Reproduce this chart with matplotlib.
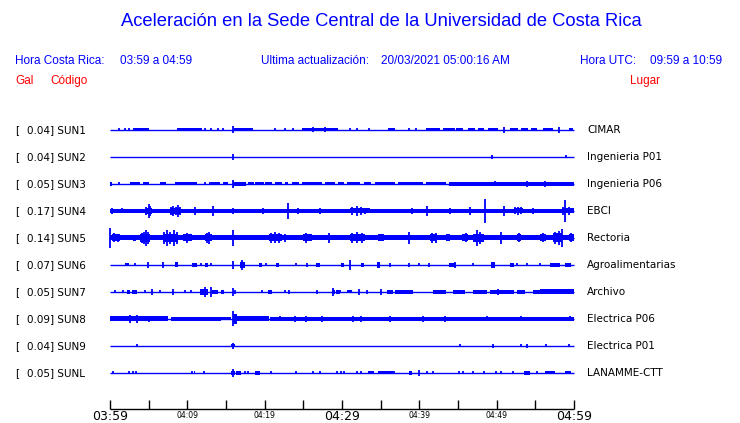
import matplotlib
matplotlib.use("Agg")
import matplotlib.pyplot as plt

# Estaciones y aceleracion maxima (Gal)
codigos = ['SUN1', 'SUN2', 'SUN3', 'SUN4', 'SUN5', 'SUN6', 'SUN7', 'SUN8', 'SUN9', 'SUNL']
gal = [0.04, 0.04, 0.05, 0.17, 0.14, 0.07, 0.05, 0.09, 0.04, 0.05]
lugares = ['CIMAR', 'Ingenieria P01', 'Ingenieria P06', 'EBCI', 'Rectoria',
           'Agroalimentarias', 'Archivo', 'Electrica P06', 'Electrica P01', 'LANAMME-CTT']

# Envolvente de cada registro, leida de la figura
# bloques: (min inicio, min fin, semi-amplitud px); picos: (min, semi-amplitud px)
bloques_sun1 = [(3.0, 5.0, 1.5), (8.6, 11.9, 1.5), (16.0, 18.5, 1.5), (24.8, 29.5, 1.5),
                (35.9, 36.8, 1.5), (40.9, 42.7, 1.5), (43.1, 44.6, 1.5), (44.8, 45.7, 1.5),
                (46.3, 47.2, 1.5), (47.6, 48.3, 1.5), (48.9, 50.2, 1.5), (51.7, 52.8, 1.5),
                (53.2, 54.1, 1.5), (54.5, 55.2, 1.5), (56.0, 57.3, 1.5), (59.3, 59.9, 1.5)]
picos_sun1 = [(1.1, 1.5), (2.0, 1.5), (2.4, 1.5), (12.3, 1.5), (13.1, 1.5), (14.0, 1.5),
              (14.6, 1.5), (15.85, 3.5), (21.3, 1.5), (22.6, 1.5), (23.7, 1.5), (26.3, 2.5),
              (27.8, 2.5), (31.0, 1.5), (32.0, 1.5), (33.5, 1.5), (38.6, 1.5), (39.6, 1.5),
              (51.0, 3.0), (58.0, 3.0)]

bloques_sun2 = []
picos_sun2 = [(15.85, 3.0), (49.4, 2.0), (59.0, 1.5)]

bloques_sun3 = [(0.0, 0.3, 2), (2.6, 3.9, 1.5), (4.3, 5.0, 1.5), (6.5, 7.3, 1.5),
                (8.4, 11.2, 1.5), (13.0, 14.2, 1.5), (14.65, 15.3, 1.5), (15.9, 17.6, 2),
                (17.8, 18.6, 1.5), (18.8, 19.9, 1.5), (20.1, 20.9, 1.5), (21.3, 22.2, 1.5),
                (22.6, 23.0, 1.5), (23.5, 24.4, 1.5), (24.8, 27.4, 1.5), (27.8, 29.1, 1.5),
                (29.5, 30.3, 1.5), (30.6, 32.3, 1.5), (32.9, 33.8, 1.5), (34.3, 36.8, 1.5),
                (37.3, 40.5, 1.5), (40.9, 43.5, 1.5), (43.9, 60.0, 2)]
picos_sun3 = [(1.1, 1.5), (12.3, 1.5), (12.9, 1.5), (15.85, 4.0), (49.8, 2.5),
              (53.9, 3.0), (56.3, 3.0)]

bloques_sun4 = [(0.0, 60.0, 1.7), (4.6, 5.4, 3), (7.8, 9.1, 3), (31.0, 33.6, 2.5),
                (52.2, 53.4, 2.5), (58.4, 60.0, 2.5)]
picos_sun4 = [(0.3, 3), (1.5, 2.5), (4.7, 4), (5.0, 7), (5.2, 5), (7.9, 4), (8.2, 5),
              (8.5, 4), (8.8, 6), (9.0, 4), (11.0, 4), (13.3, 5), (15.85, 3), (19.8, 3),
              (23.0, 8), (24.3, 3), (27.1, 3), (31.3, 4), (31.9, 5), (32.4, 4), (33.0, 3),
              (39.0, 3), (40.95, 5), (44.0, 3), (46.5, 4), (48.5, 12), (51.0, 5),
              (52.4, 3.5), (52.7, 4), (53.1, 3.5), (54.7, 3), (58.6, 4), (58.9, 11), (59.4, 4)]

bloques_sun5 = [(0.0, 60.0, 2.5), (0.2, 1.3, 3.5), (3.0, 3.4, 3), (3.9, 5.2, 4),
                (6.8, 8.8, 4), (9.5, 10.6, 3.5), (12.3, 13.15, 3.5), (20.5, 22.2, 3.5),
                (25.0, 26.1, 3.5), (31.0, 33.0, 3.5), (34.7, 35.4, 3.5), (41.4, 42.3, 3.5),
                (43.5, 44.0, 3.5), (45.5, 46.3, 3.5), (47.0, 48.3, 4), (52.6, 53.2, 3.5),
                (55.6, 56.4, 3.5), (57.3, 58.4, 4.5), (59.3, 60.0, 3.5)]
picos_sun5 = [(0.0, 10), (0.5, 4.5), (1.0, 4), (4.1, 5), (4.4, 6), (4.6, 8), (4.9, 6),
              (7.0, 6), (7.4, 8), (7.8, 6), (8.3, 8), (8.6, 6), (10.0, 5), (12.5, 5),
              (12.8, 6), (15.85, 8), (20.8, 5), (21.3, 5.5), (21.8, 5), (22.6, 4), (25.4, 5),
              (28.3, 5), (31.3, 5), (32.0, 5.5), (32.6, 5), (38.6, 6), (41.7, 5), (42.1, 5),
              (46.0, 4.5), (47.4, 8), (47.9, 6), (50.6, 6), (52.9, 4.5), (56.0, 4.5),
              (57.6, 6), (58.0, 7), (58.5, 9), (59.6, 4.5)]

bloques_sun6 = [(1.9, 2.4, 1.5), (8.4, 8.8, 2.5), (10.6, 11.2, 2), (12.3, 12.7, 2),
                (16.8, 17.5, 3), (19.3, 19.7, 2), (21.5, 21.9, 2), (26.7, 27.2, 2),
                (29.9, 30.3, 2), (32.4, 32.8, 2), (34.5, 34.9, 3), (43.8, 44.8, 2),
                (49.3, 49.8, 3), (51.7, 52.2, 2), (56.9, 58.2, 2), (58.8, 59.6, 2)]
picos_sun6 = [(3.2, 1.5), (4.95, 3), (6.9, 3), (11.8, 1.5), (13.1, 1.5), (15.85, 4),
              (17.1, 5), (20.2, 1.5), (24.1, 1.5), (25.5, 2), (31.0, 5), (36.2, 2),
              (38.6, 2), (39.9, 1.5), (41.2, 2), (44.6, 3), (47.0, 1.5), (52.6, 1.5),
              (53.9, 1.5), (55.6, 1.5)]

bloques_sun7 = [(2.2, 2.6, 2), (2.8, 3.45, 2), (11.6, 12.7, 3), (13.15, 14.0, 2),
                (14.4, 14.8, 2), (20.4, 20.9, 2), (28.7, 29.1, 2), (29.2, 29.7, 2),
                (30.6, 31.3, 1.5), (35.8, 36.6, 2), (36.9, 39.2, 2), (41.8, 43.5, 2),
                (44.4, 45.9, 2), (47.0, 48.7, 2), (49.1, 52.2, 2), (52.6, 53.6, 2),
                (54.7, 55.6, 2), (55.6, 60.0, 2.5)]
picos_sun7 = [(0.6, 1.5), (1.7, 1.5), (4.5, 1.5), (5.4, 3), (6.5, 1.5), (8.2, 3),
              (9.7, 1.5), (10.5, 1.5), (12.3, 5), (13.05, 5), (15.85, 4), (16.2, 2),
              (19.6, 1.5), (22.6, 1.5), (23.2, 2), (26.8, 2), (28.9, 4), (29.7, 1.5),
              (32.2, 3), (33.2, 2), (35.1, 3), (50.2, 3)]

bloques_sun8 = [(0.0, 7.5, 2.5), (7.9, 14.4, 2), (14.4, 15.7, 1.5), (15.9, 16.4, 5),
                (16.4, 20.5, 2.5), (20.7, 60.0, 2)]
picos_sun8 = [(2.6, 4), (3.45, 4), (5.0, 3), (15.85, 7.5), (22.0, 2.5), (23.9, 3),
              (25.4, 3), (27.4, 3), (31.4, 3), (32.5, 3), (36.2, 3), (40.5, 3),
              (43.3, 3), (48.7, 2.5), (53.2, 2.5), (59.5, 2.5)]

bloques_sun9 = [(15.7, 16.1, 1.5)]
picos_sun9 = [(3.5, 1.5), (15.85, 3), (45.2, 1.5), (49.5, 2), (53.2, 1.5), (53.9, 2),
              (56.4, 1.5), (59.3, 1.5)]

bloques_sunl = [(10.8, 11.0, 1.5), (15.7, 16.1, 2), (16.3, 16.9, 2), (18.7, 19.4, 2),
                (33.4, 34.2, 1.5), (34.6, 36.6, 1.5), (38.6, 39.0, 2), (53.5, 54.3, 2),
                (56.2, 57.5, 1.5), (58.8, 59.6, 1.5)]
picos_sunl = [(0.43, 1.5), (2.45, 1.5), (3.0, 1.5), (3.3, 1.5), (10.6, 1.5), (12.1, 1.5),
              (15.85, 4), (17.5, 1.5), (17.9, 1.5), (20.8, 1.5), (24.1, 1.5), (26.3, 1.5),
              (27.1, 1.5), (29.4, 1.5), (30.2, 1.5), (29.9, 1.5), (31.9, 1.5), (32.5, 1.5),
              (36.7, 1.5), (39.9, 3), (41.0, 1.5), (41.8, 1.5), (45.1, 1.5), (45.7, 1.5),
              (47.0, 1.5), (48.3, 1.5), (49.9, 1.5), (50.6, 1.5), (52.1, 1.5), (55.2, 1.5)]

bloques = [bloques_sun1, bloques_sun2, bloques_sun3, bloques_sun4, bloques_sun5,
           bloques_sun6, bloques_sun7, bloques_sun8, bloques_sun9, bloques_sunl]
picos = [picos_sun1, picos_sun2, picos_sun3, picos_sun4, picos_sun5,
         picos_sun6, picos_sun7, picos_sun8, picos_sun9, picos_sunl]

# Eje de tiempo (minutos desde 03:59)
t_ticks = list(range(0, 61, 5))
t_etiquetas = [0, 10, 20, 30, 40, 50, 60]
etiquetas = ['03:59', '04:09', '04:19', '04:29', '04:39', '04:49', '04:59']
etiquetas_grandes = ['03:59', '04:29', '04:59']

AZUL = '#0000ff'
W, H = 740, 423
X0, X1 = 110, 574          # pixeles de 03:59 y 04:59
Y_PRIMERA, PASO = 130, 27  # fila de la primera traza y separacion
Y_EJE = 409

fig = plt.figure(figsize=(W / 100, H / 100), dpi=100)
ax = fig.add_axes([0, 0, 1, 1])
esc = (X1 - X0) / 60.0
ax.set_xlim(-X0 / esc, (W - X0) / esc)
ax.set_ylim(H, 0)
ax.axis('off')

def px(x):
    return x / W

fuente = 'Liberation Sans'
fig.text(px(381), 1 - 22 / H, 'Aceleración en la Sede Central de la Universidad de Costa Rica',
         ha='center', va='center', color=AZUL, fontsize=13.2, family=fuente)
fig.text(px(15), 1 - 61 / H, 'Hora Costa Rica:', ha='left', va='center', color=AZUL, fontsize=8.5, family=fuente)
fig.text(px(120), 1 - 61 / H, '03:59 a 04:59', ha='left', va='center', color=AZUL, fontsize=8.5, family=fuente)
fig.text(px(261), 1 - 61 / H, 'Ultima actualización:', ha='left', va='center', color=AZUL, fontsize=8.5, family=fuente)
fig.text(px(381), 1 - 61 / H, '20/03/2021 05:00:16 AM', ha='left', va='center', color=AZUL, fontsize=8.5, family=fuente)
fig.text(px(580), 1 - 61 / H, 'Hora UTC:', ha='left', va='center', color=AZUL, fontsize=8.5, family=fuente)
fig.text(px(650), 1 - 61 / H, '09:59 a 10:59', ha='left', va='center', color=AZUL, fontsize=8.5, family=fuente)
fig.text(px(15), 1 - 81 / H, 'Gal', ha='left', va='center', color='red', fontsize=8.5, family=fuente)
fig.text(px(50), 1 - 81 / H, 'Código', ha='left', va='center', color='red', fontsize=8.5, family=fuente)
fig.text(px(630), 1 - 81 / H, 'Lugar', ha='left', va='center', color='red', fontsize=8.5, family=fuente)

for i, cod in enumerate(codigos):
    y = Y_PRIMERA + PASO * i
    ax.hlines(y, 0, 60, color=AZUL, lw=1.0)
    for t0, t1, h in bloques[i]:
        ax.broken_barh([(t0, t1 - t0)], (y - h, 2 * h), facecolors=AZUL, edgecolor='none')
    for t, h in picos[i]:
        ax.vlines(t, y - h, y + h, color=AZUL, lw=1.3)
    fig.text(px(15), 1 - y / H, '[', ha='left', va='center', fontsize=7.5)
    fig.text(px(27), 1 - y / H, f'{gal[i]:.2f}] {cod}', ha='left', va='center', fontsize=7.5)
    fig.text(px(587), 1 - y / H, lugares[i], ha='left', va='center', fontsize=7.5)

# Eje de tiempo
ax.hlines(Y_EJE, 0, 60, color='black', lw=1.0)
ax.vlines(t_ticks, Y_EJE - 9, Y_EJE, color='black', lw=1.0)
for t, lab in zip(t_etiquetas, etiquetas):
    if lab in etiquetas_grandes:
        ax.text(t, 417, lab, ha='center', va='center', fontsize=9)
    else:
        ax.text(t, 415, lab, ha='center', va='center', fontsize=5.5)

fig.savefig('out.png', dpi=100)
